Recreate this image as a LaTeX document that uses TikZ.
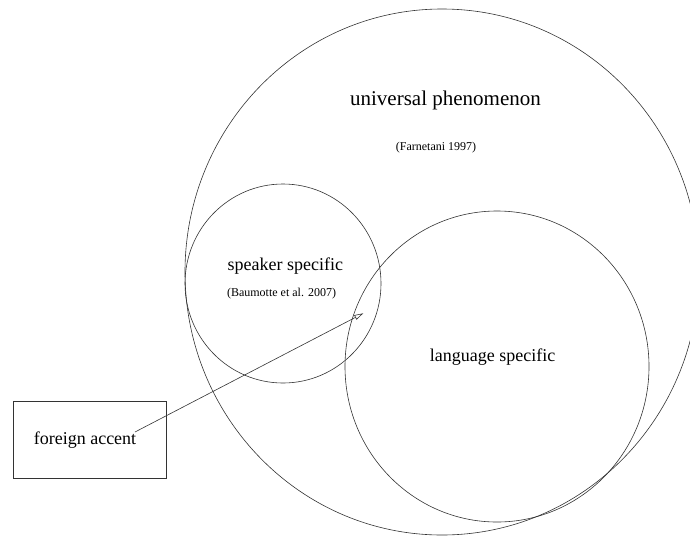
\documentclass[tikz,border=0pt]{standalone}
\usepackage{fontspec}
\setmainfont{Liberation Serif}
\usetikzlibrary{shapes.geometric,arrows.meta}
\tikzset{
  ln/.style={draw=black!80, line width=0.6pt},
  ring/.style={ln, ellipse, inner sep=0pt},
  big/.style={font=\fontsize{18}{20}\selectfont},
  huge/.style={font=\fontsize{21}{23}\selectfont},
  small/.style={font=\fontsize{12}{14}\selectfont},
}
\begin{document}
\begin{tikzpicture}[x=1pt,y=-1pt]
\useasboundingbox (0,0) rectangle (690,536);
\clip (0,0) rectangle (690,536);
\node[ring, minimum width=514pt, minimum height=526pt] (univ) at (442,272) {};
\node[ring, minimum width=196pt, minimum height=199pt] (spk) at (283,283.5) {};
\node[ring, minimum width=304pt, minimum height=311pt] (lang) at (497,366.5) {};
\node[ln, rectangle, minimum width=153pt, minimum height=77pt, inner sep=0pt] (fa) at (89.5,439.5) {};
\node[huge] (tuniv) at (445.5,100) {universal phenomenon};
\node[small] (tfarn) at (436,148) {(Farnetani 1997)};
\node[big] (tspk) at (285.3,266) {speaker specific};
\node[small] (tbau) at (281.5,294) {(Baumotte et al. 2007)};
\node[big] (tlang) at (492.7,357) {language specific};
\node[big] (tfa) at (85,440) {foreign accent};
\coordinate (astart) at (135,432);
\coordinate (aend) at (363.3,313.3);
\draw[ln, -{Triangle[open, length=9pt, width=5pt]}] (astart) -- (aend);
\end{tikzpicture}
\end{document}
